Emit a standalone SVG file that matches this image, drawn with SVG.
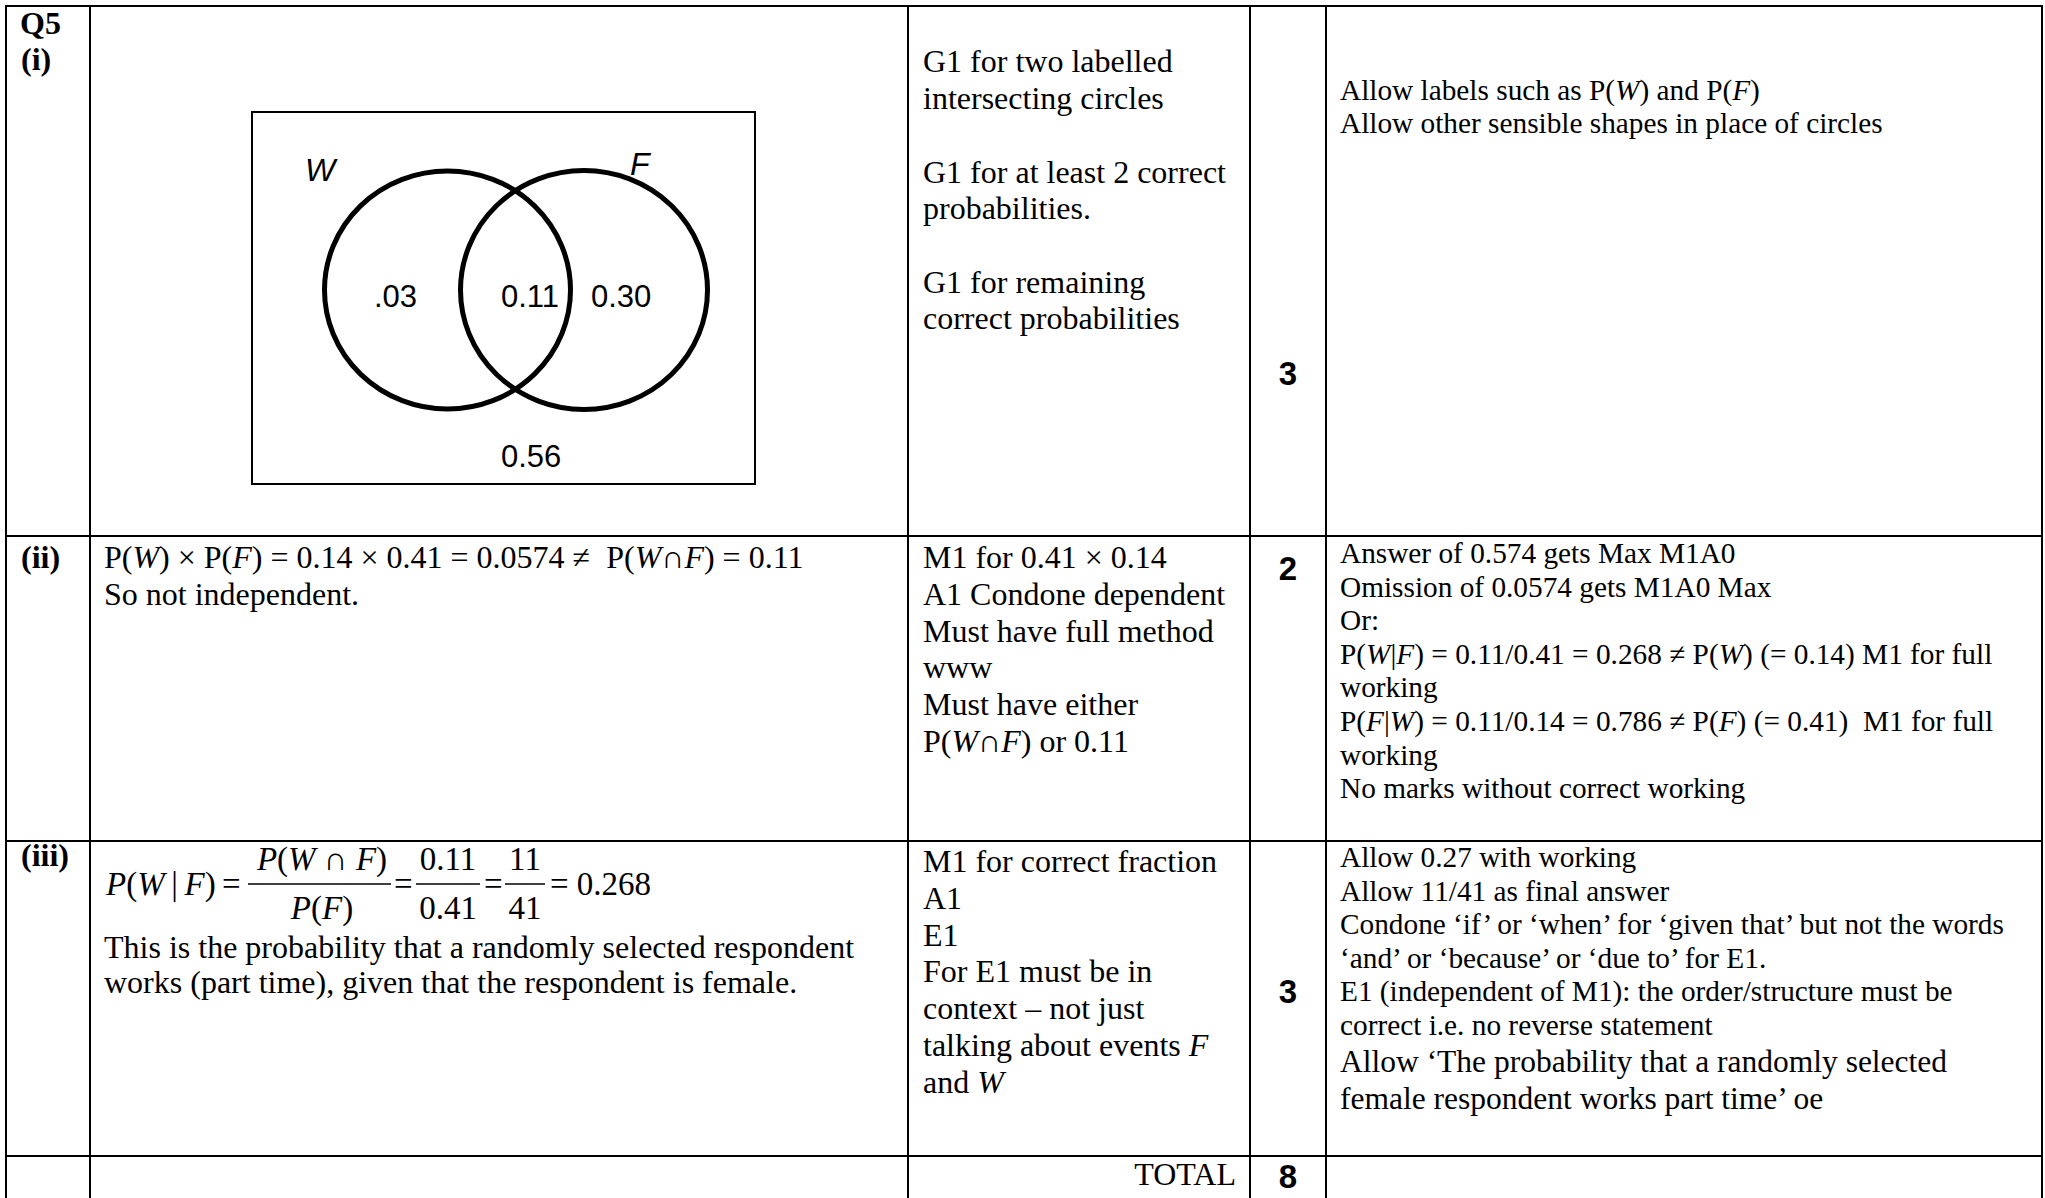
<svg xmlns="http://www.w3.org/2000/svg" width="2045" height="1198" viewBox="0 0 2045 1198">
<style>
  .grid line { stroke: #000; stroke-width: 2; }
  .s12 { font-family: "Liberation Serif", "Times New Roman", serif; font-size: 32px; fill: #000; }
  .s12b { font-family: "Liberation Serif", "Times New Roman", serif; font-size: 31.5px; fill: #000; }
  .s11 { font-family: "Liberation Serif", "Times New Roman", serif; font-size: 29.3px; fill: #000; }
  .lbl { font-family: "Liberation Serif", "Times New Roman", serif; font-size: 32px; font-weight: bold; fill: #000; }
  .mark { font-family: "Liberation Sans", Arial, sans-serif; font-size: 33px; font-weight: bold; fill: #000; text-anchor: middle; }
  .vn { font-family: "Liberation Sans", Arial, sans-serif; font-size: 31px; fill: #000; }
  .vl { font-family: "Liberation Sans", Arial, sans-serif; font-size: 32px; font-style: italic; fill: #000; }
  .fm { font-family: "Liberation Serif", "Times New Roman", serif; font-size: 33px; fill: #000; }
  .it { font-style: italic; }
  .ring { fill: none; stroke: #000; stroke-width: 5; }
  .bar { stroke: #000; stroke-width: 1.5; }
</style>
<rect width="2045" height="1198" fill="#fff"/>

<g id="grid" class="grid">
  <line x1="5" y1="6" x2="2043" y2="6"/>
  <line x1="5" y1="536" x2="2043" y2="536"/>
  <line x1="5" y1="841" x2="2043" y2="841"/>
  <line x1="5" y1="1156" x2="2043" y2="1156"/>
  <line x1="6" y1="5" x2="6" y2="1198"/>
  <line x1="90" y1="5" x2="90" y2="1198"/>
  <line x1="908" y1="5" x2="908" y2="1198"/>
  <line x1="1250" y1="5" x2="1250" y2="1198"/>
  <line x1="1326" y1="5" x2="1326" y2="1198"/>
  <line x1="2042" y1="5" x2="2042" y2="1198"/>
</g>

<g id="row-i">
  <g id="label-i">
    <text class="lbl" x="20" y="34">Q5</text>
    <text class="lbl" x="21" y="70">(i)</text>
  </g>
  <g id="venn">
    <rect x="252" y="112" width="503" height="372" fill="none" stroke="#000" stroke-width="2"/>
    <ellipse class="ring" cx="447.5" cy="290" rx="123" ry="119"/>
    <ellipse class="ring" cx="584" cy="290" rx="123.5" ry="119.5"/>
    <text class="vl" x="305" y="181">W</text>
    <text class="vl" x="630" y="175">F</text>
    <text class="vn" x="374" y="307">.03</text>
    <text class="vn" x="501" y="307">0.11</text>
    <text class="vn" x="591" y="307">0.30</text>
    <text class="vn" x="501" y="467">0.56</text>
  </g>
  <g id="scheme-i" class="s12">
    <text x="923" y="72">G1 for two labelled</text>
    <text x="923" y="108.5">intersecting circles</text>
    <text x="923" y="182.5">G1 for at least 2 correct</text>
    <text x="923" y="219">probabilities.</text>
    <text x="923" y="292.7">G1 for remaining</text>
    <text x="923" y="329">correct probabilities</text>
  </g>
  <g id="marks-i"><text class="mark" x="1288" y="385">3</text></g>
  <g id="notes-i" class="s11">
    <text x="1340" y="100">Allow labels such as P(<tspan class="it">W</tspan>) and P(<tspan class="it">F</tspan>)</text>
    <text x="1340" y="133">Allow other sensible shapes in place of circles</text>
  </g>
</g>

<g id="row-ii">
  <g id="label-ii"><text class="lbl" x="21" y="568">(ii)</text></g>
  <g id="answer-ii" class="s12">
    <text x="104" y="568">P(<tspan class="it">W</tspan>) × P(<tspan class="it">F</tspan>) = 0.14 × 0.41 = 0.0574 ≠&#160; P(<tspan class="it">W</tspan>∩<tspan class="it">F</tspan>) = 0.11</text>
    <text x="104" y="605">So not independent.</text>
  </g>
  <g id="scheme-ii" class="s12">
    <text x="923" y="568">M1 for 0.41 × 0.14</text>
    <text x="923" y="604.8">A1 Condone dependent</text>
    <text x="923" y="641.6">Must have full method</text>
    <text x="923" y="678.4">www</text>
    <text x="923" y="715.2">Must have either</text>
    <text x="923" y="752">P(<tspan class="it">W</tspan>∩<tspan class="it">F</tspan>) or 0.11</text>
  </g>
  <g id="marks-ii"><text class="mark" x="1288" y="580">2</text></g>
  <g id="notes-ii" class="s11">
    <text x="1340" y="563">Answer of 0.574 gets Max M1A0</text>
    <text x="1340" y="596.6">Omission of 0.0574 gets M1A0 Max</text>
    <text x="1340" y="630.2">Or:</text>
    <text x="1340" y="663.8">P(<tspan class="it">W</tspan>|<tspan class="it">F</tspan>) = 0.11/0.41 = 0.268 ≠ P(<tspan class="it">W</tspan>) (= 0.14) M1 for full</text>
    <text x="1340" y="697.4">working</text>
    <text x="1340" y="731">P(<tspan class="it">F</tspan>|<tspan class="it">W</tspan>) = 0.11/0.14 = 0.786 ≠ P(<tspan class="it">F</tspan>) (= 0.41)&#160; M1 for full</text>
    <text x="1340" y="764.6">working</text>
    <text x="1340" y="798.2">No marks without correct working</text>
  </g>
</g>

<g id="row-iii">
  <g id="label-iii"><text class="lbl" x="21" y="866">(iii)</text></g>
  <g id="answer-iii">
    <text class="fm" x="106" y="895" font-size="32"><tspan class="it">P</tspan>(<tspan class="it">W</tspan>&#8201;|&#8201;<tspan class="it">F</tspan>)</text>
    <text class="fm" x="222" y="895">=</text>
    <text class="fm" x="322" y="870" text-anchor="middle"><tspan class="it">P</tspan>(<tspan class="it">W</tspan> ∩ <tspan class="it">F</tspan>)</text>
    <line class="bar" x1="248" y1="884" x2="391" y2="884"/>
    <text class="fm" x="322" y="919" text-anchor="middle"><tspan class="it">P</tspan>(<tspan class="it">F</tspan>)</text>
    <text class="fm" x="394" y="895">=</text>
    <text class="fm" x="448" y="870" text-anchor="middle">0.11</text>
    <line class="bar" x1="416" y1="884" x2="480" y2="884"/>
    <text class="fm" x="448" y="919" text-anchor="middle">0.41</text>
    <text class="fm" x="484" y="895">=</text>
    <text class="fm" x="525" y="870" text-anchor="middle">11</text>
    <line class="bar" x1="505" y1="884" x2="545" y2="884"/>
    <text class="fm" x="525" y="919" text-anchor="middle">41</text>
    <text class="fm" x="550" y="895">= 0.268</text>
    <text class="s12" x="104" y="958">This is the probability that a randomly selected respondent</text>
    <text class="s12" x="104" y="993">works (part time), given that the respondent is female.</text>
  </g>
  <g id="scheme-iii" class="s12">
    <text x="923" y="872">M1 for correct fraction</text>
    <text x="923" y="908.8">A1</text>
    <text x="923" y="945.6">E1</text>
    <text x="923" y="982.4">For E1 must be in</text>
    <text x="923" y="1019.2">context – not just</text>
    <text x="923" y="1056">talking about events <tspan class="it">F</tspan></text>
    <text x="923" y="1092.8">and <tspan class="it">W</tspan></text>
  </g>
  <g id="marks-iii"><text class="mark" x="1288" y="1003">3</text></g>
  <g id="notes-iii">
    <text class="s11" x="1340" y="867">Allow 0.27 with working</text>
    <text class="s11" x="1340" y="900.6">Allow 11/41 as final answer</text>
    <text class="s11" x="1340" y="934.2">Condone ‘if’ or ‘when’ for ‘given that’ but not the words</text>
    <text class="s11" x="1340" y="967.8">‘and’ or ‘because’ or ‘due to’ for E1.</text>
    <text class="s11" x="1340" y="1001.4">E1 (independent of M1): the order/structure must be</text>
    <text class="s11" x="1340" y="1035">correct i.e. no reverse statement</text>
    <text class="s12b" x="1340" y="1072">Allow ‘The probability that a randomly selected</text>
    <text class="s12b" x="1340" y="1109">female respondent works part time’ oe</text>
  </g>
</g>

<g id="row-total">
  <text class="s12" x="1236" y="1185" text-anchor="end">TOTAL</text>
  <text class="mark" x="1288" y="1188">8</text>
</g>
</svg>
